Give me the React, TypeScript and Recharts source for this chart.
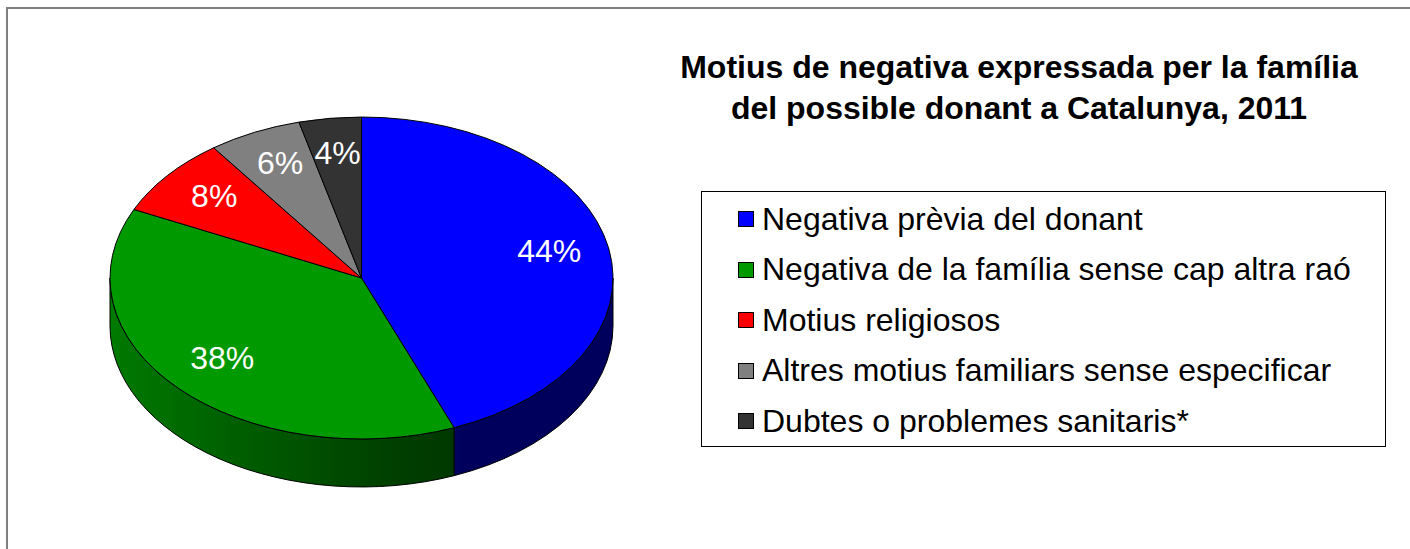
import { PieChart, Pie, Cell, Legend } from 'recharts';

const categories = [
  'Negativa prèvia del donant',
  'Negativa de la família sense cap altra raó',
  'Motius religiosos',
  'Altres motius familiars sense especificar',
  'Dubtes o problemes sanitaris*',
];
const shares = [44, 38, 8, 6, 4];
const sliceColors = ['#0000ff', '#009900', '#ff0000', '#808080', '#333333'];
const titleLines = [
  'Motius de negativa expressada per la família',
  'del possible donant a Catalunya, 2011',
];

const pieData = categories.map((name, i) => ({ name, value: shares[i] }));

const FONT = 'Arial, "Liberation Sans", sans-serif';
const RAD = Math.PI / 180;
const TILT = 0.64; // ry / rx of the top face
const DEPTH = 48; // thickness of the disc in px

function shade(hex: string, k: number) {
  const n = parseInt(hex.slice(1), 16);
  const r = Math.round(((n >> 16) & 255) * k);
  const g = Math.round(((n >> 8) & 255) * k);
  const b = Math.round((n & 255) * k);
  return `rgb(${r},${g},${b})`;
}

// elliptical sector + the visible front wall
function Slice3D(props: any) {
  const { cx, cy, outerRadius, startAngle, endAngle, fill } = props;
  const rx = outerRadius;
  const ry = outerRadius * TILT;
  const hi = Math.max(startAngle, endAngle);
  const lo = Math.min(startAngle, endAngle);
  const px = (a: number) => cx + rx * Math.cos(a * RAD);
  const py = (a: number, dy = 0) => cy - ry * Math.sin(a * RAD) + dy;
  const large = hi - lo > 180 ? 1 : 0;
  const top = `M${cx},${cy} L${px(hi)},${py(hi)} A${rx},${ry} 0 ${large} 1 ${px(lo)},${py(lo)} Z`;

  const walls: string[] = [];
  for (const [w0, w1] of [[-540, -360], [-180, 0], [180, 360]]) {
    const s = Math.min(hi, w1);
    const e = Math.max(lo, w0);
    if (s > e) {
      walls.push(
        `M${px(s)},${py(s)} A${rx},${ry} 0 0 1 ${px(e)},${py(e)} ` +
        `L${px(e)},${py(e, DEPTH)} A${rx},${ry} 0 0 0 ${px(s)},${py(s, DEPTH)} Z`
      );
    }
  }
  const gid = `wall-${String(fill).replace('#', '')}`;

  return (
    <g>
      <defs>
        <linearGradient id={gid} gradientUnits="userSpaceOnUse" x1={cx - rx} y1={0} x2={cx + rx} y2={0}>
          <stop offset="0" stopColor={shade(fill, 0.8)} />
          <stop offset="0.24" stopColor={shade(fill, 0.63)} />
          <stop offset="0.55" stopColor={shade(fill, 0.42)} />
          <stop offset="0.7" stopColor={shade(fill, 0.36)} />
          <stop offset="1" stopColor={shade(fill, 0.36)} />
        </linearGradient>
      </defs>
      {walls.map((d, i) => (
        <path key={i} d={d} fill={`url(#${gid})`} stroke="#000" strokeWidth={1} strokeLinejoin="round" />
      ))}
      <path d={top} fill={fill} stroke="#000" strokeWidth={1} strokeLinejoin="round" />
    </g>
  );
}

function renderLabel(props: any) {
  const { cx, cy, midAngle, outerRadius, value } = props;
  const f = 0.76;
  const x = cx + f * outerRadius * Math.cos(midAngle * RAD);
  const y = cy - f * outerRadius * TILT * Math.sin(midAngle * RAD) - 4;
  return (
    <text x={x} y={y} fill="#fff" fontSize={32} fontFamily={FONT}
      textAnchor="middle" dominantBaseline="central">
      {`${value}%`}
    </text>
  );
}

function renderLegend(props: any) {
  // keep the data order (recharts sorts legend items by name otherwise)
  const items = [...(props.payload || [])].sort(
    (a: any, b: any) => categories.indexOf(a.value) - categories.indexOf(b.value)
  );
  return (
    <div style={{
      width: '100%', height: '100%', boxSizing: 'border-box', border: '1px solid #000',
      background: '#fff', paddingTop: 2, fontFamily: FONT, fontSize: 32, color: '#000',
    }}>
      {items.map((entry: any) => (
        <div key={entry.value} style={{ height: 50.5, display: 'flex', alignItems: 'center' }}>
          <span style={{
            display: 'inline-block', width: 14, height: 14, marginLeft: 36, marginRight: 8,
            background: entry.color, border: '1.5px solid #000',
          }} />
          <span style={{ whiteSpace: 'nowrap' }}>{entry.value}</span>
        </div>
      ))}
    </div>
  );
}

export default function App() {
  return (
    <div style={{ position: 'absolute', left: 0, top: 0, width: 1410, height: 549, overflow: 'hidden', background: '#fff' }}>
      <div style={{
        position: 'absolute', left: 6, top: 7, width: 1430, height: 580,
        border: '2px solid #7f7f7f', boxSizing: 'border-box',
      }} />
      <div style={{
        position: 'absolute', left: 619, top: 47, width: 800, textAlign: 'center',
        fontFamily: FONT, fontWeight: 'bold', fontSize: 32, lineHeight: '41px', color: '#000',
      }}>
        {titleLines.map(t => <div key={t}>{t}</div>)}
      </div>
      <div style={{ position: 'absolute', left: 0, top: 0 }}>
        <PieChart width={1410} height={549} margin={{ top: 0, right: 0, bottom: 0, left: 0 }}>
          <Pie
            data={pieData}
            dataKey="value"
            nameKey="name"
            cx={361.5}
            cy={278}
            outerRadius={251.5}
            startAngle={90}
            endAngle={-270}
            shape={Slice3D}
            activeShape={Slice3D}
            label={renderLabel}
            labelLine={false}
            isAnimationActive={false}
          >
            {pieData.map((d, i) => <Cell key={d.name} fill={sliceColors[i]} />)}
          </Pie>
          <Legend
            content={renderLegend}
            wrapperStyle={{ position: 'absolute', left: 701, top: 191, width: 685, height: 256 }}
          />
        </PieChart>
      </div>
    </div>
  );
}
